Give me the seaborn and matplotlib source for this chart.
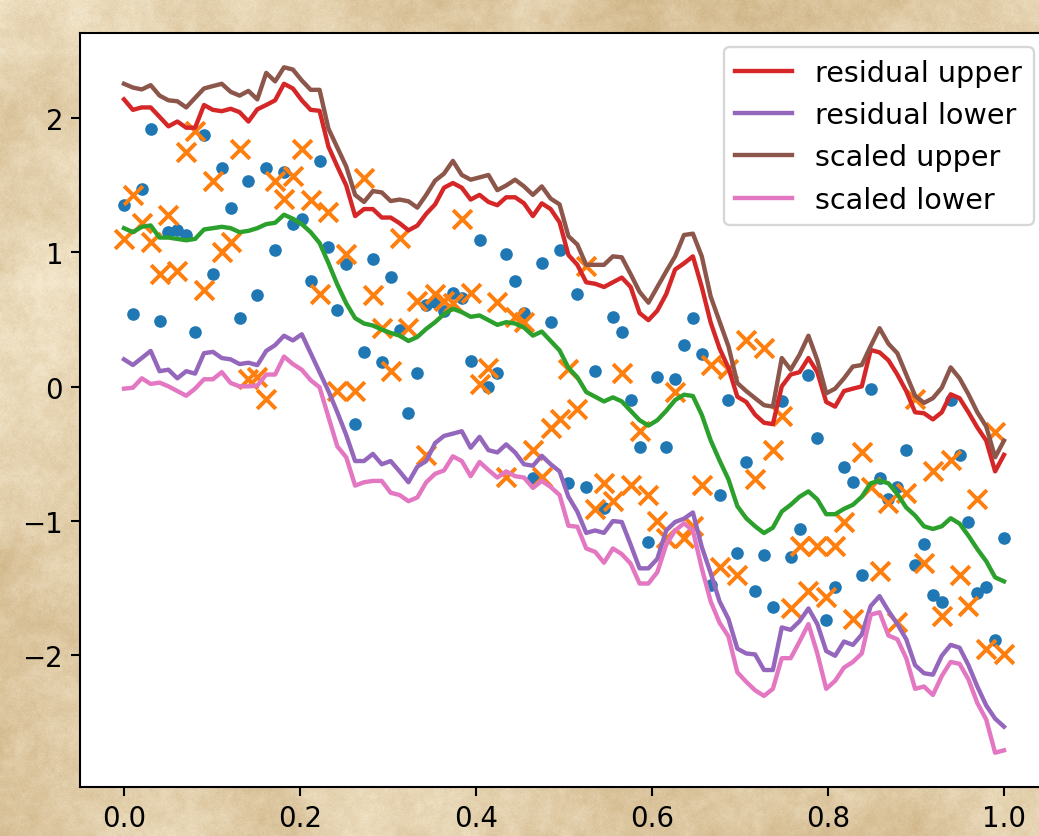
import numpy as np
import matplotlib
matplotlib.use("Agg")
import matplotlib.pyplot as plt
import seaborn as sns

# sample positions shared by every series
x = np.linspace(0.0, 1.0, 100)

# observed points, group A (dots)
obs_a = [
    1.35, 0.54, 1.47, 1.92, 0.49, 1.15, 1.17, 1.13, 0.41, 1.87,
    0.84, 1.63, 1.33, 0.51, 1.53, 0.68, 1.63, 1.02, 1.60, 1.21,
    1.25, 0.79, 1.68, 1.04, 0.57, 0.91, -0.28, 0.26, 0.95, 0.18,
    0.82, 0.42, -0.20, 0.10, 0.61, 0.63, 0.56, 0.70, 0.66, 0.19,
    1.09, 0.00, 0.10, 0.99, 0.79, 0.55, -0.68, 0.92, 0.48, 1.02,
    -0.72, 0.69, -0.75, 0.12, -0.90, 0.52, 0.41, -0.10, -0.45, -1.16,
    0.07, -0.45, 0.06, 0.31, 0.51, 0.24, -1.48, -0.81, -0.10, -1.24,
    -0.56, -1.52, -1.25, -1.64, -0.11, -1.27, -1.06, 0.09, -0.38, -1.74,
    -1.49, -0.60, -0.71, -1.40, -0.02, -0.68, -0.84, -0.75, -0.47, -1.33,
    -1.17, -1.55, -1.60, -0.10, -0.51, -1.01, -1.54, -1.49, -1.89, -1.13,
]

# observed points, group B (crosses)
obs_b = [
    1.10, 1.43, 1.22, 1.08, 0.84, 1.28, 0.86, 1.75, 1.90, 0.72,
    1.53, 1.00, 1.08, 1.77, 0.06, 0.07, -0.09, 1.53, 1.40, 1.57,
    1.77, 1.39, 0.69, 1.30, -0.03, 0.99, -0.03, 1.55, 0.68, 0.44,
    0.12, 1.11, 0.44, 0.64, -0.51, 0.69, 0.64, 0.62, 1.25, 0.70,
    0.02, 0.14, 0.63, -0.67, 0.52, 0.48, -0.47, -0.67, -0.31, -0.24,
    0.13, -0.17, 0.90, -0.91, -0.72, -0.85, 0.10, -0.73, -0.33, -0.81,
    -1.00, -1.13, -0.04, -1.13, -1.04, -0.73, 0.16, -1.34, 0.13, -1.40,
    0.35, -0.69, 0.29, -0.47, -0.22, -1.65, -1.19, -1.52, -1.19, -1.57,
    -1.19, -1.01, -1.73, -0.49, -0.75, -1.37, -0.87, -1.75, -0.79, -0.09,
    -1.31, -0.63, -1.71, -0.55, -1.40, -1.63, -0.84, -1.95, -0.34, -1.99,
]

# smoothed trend
trend = [
    1.18, 1.15, 1.19, 1.20, 1.11, 1.11, 1.10, 1.09, 1.10, 1.17,
    1.18, 1.19, 1.18, 1.15, 1.16, 1.18, 1.21, 1.22, 1.28, 1.25,
    1.21, 1.15, 1.07, 0.92, 0.76, 0.62, 0.51, 0.47, 0.455, 0.425,
    0.40, 0.38, 0.34, 0.37, 0.43, 0.48, 0.54, 0.58, 0.555, 0.52,
    0.53, 0.495, 0.46, 0.48, 0.47, 0.44, 0.38, 0.41, 0.34, 0.27,
    0.14, 0.07, -0.04, -0.075, -0.11, -0.08, -0.11, -0.18, -0.25, -0.29,
    -0.25, -0.18, -0.10, -0.06, -0.07, -0.21, -0.40, -0.55, -0.69, -0.89,
    -0.98, -1.04, -1.09, -1.05, -0.93, -0.88, -0.82, -0.78, -0.84, -0.95,
    -0.95, -0.91, -0.88, -0.82, -0.72, -0.70, -0.72, -0.80, -0.90, -0.96,
    -1.04, -1.06, -1.04, -0.98, -1.02, -1.11, -1.21, -1.30, -1.42, -1.45,
]

residual_upper = [
    2.139, 2.061, 2.079, 2.079, 2.009, 1.938, 1.974, 1.928, 1.928, 2.097,
    2.061, 2.051, 2.069, 2.044, 1.974, 2.065, 2.097, 2.132, 2.255, 2.220,
    2.132, 2.061, 2.054, 1.787, 1.639, 1.498, 1.270, 1.322, 1.322, 1.259,
    1.259, 1.217, 1.164, 1.199, 1.287, 1.357, 1.481, 1.516, 1.481, 1.393,
    1.428, 1.375, 1.351, 1.410, 1.410, 1.365, 1.270, 1.365, 1.322, 1.224,
    0.980, 0.907, 0.777, 0.766, 0.742, 0.777, 0.812, 0.742, 0.548, 0.495,
    0.566, 0.689, 0.872, 0.918, 0.970, 0.742, 0.478, 0.284, 0.140, -0.075,
    -0.114, -0.209, -0.269, -0.279, 0.002, 0.090, 0.108, 0.213, 0.108, -0.114,
    -0.149, -0.033, -0.015, 0.002, 0.273, 0.255, 0.196, 0.090, -0.033, -0.191,
    -0.198, -0.244, -0.191, -0.057, -0.086, -0.191, -0.304, -0.402, -0.631, -0.508,
]

residual_lower = [
    0.203, 0.161, 0.213, 0.266, 0.115, 0.126, 0.062, 0.115, 0.097, 0.249,
    0.259, 0.213, 0.203, 0.168, 0.178, 0.160, 0.266, 0.309, 0.379, 0.344,
    0.390, 0.249, 0.108, -0.033, -0.191, -0.360, -0.554, -0.554, -0.501, -0.578,
    -0.554, -0.631, -0.712, -0.596, -0.554, -0.420, -0.367, -0.350, -0.332, -0.455,
    -0.374, -0.473, -0.490, -0.430, -0.490, -0.578, -0.589, -0.515, -0.578, -0.631,
    -0.820, -0.931, -1.089, -1.071, -1.089, -1.001, -1.008, -1.177, -1.353, -1.353,
    -1.282, -1.071, -1.008, -0.983, -0.937, -1.194, -1.388, -1.599, -1.730, -1.951,
    -1.987, -1.994, -2.110, -2.110, -1.793, -1.811, -1.747, -1.652, -1.768, -1.969,
    -2.004, -1.898, -1.923, -1.846, -1.634, -1.560, -1.670, -1.768, -1.881, -2.074,
    -2.134, -2.145, -2.004, -1.923, -1.944, -2.074, -2.233, -2.374, -2.472, -2.532,
]

scaled_upper = [
    2.255, 2.227, 2.213, 2.245, 2.167, 2.132, 2.125, 2.079, 2.150, 2.220,
    2.238, 2.255, 2.195, 2.167, 2.202, 2.139, 2.336, 2.273, 2.378, 2.361,
    2.280, 2.210, 2.210, 1.921, 1.780, 1.639, 1.428, 1.375, 1.456, 1.446,
    1.382, 1.393, 1.380, 1.333, 1.428, 1.534, 1.586, 1.681, 1.576, 1.541,
    1.558, 1.576, 1.463, 1.498, 1.541, 1.491, 1.428, 1.491, 1.400, 1.357,
    1.120, 1.058, 0.907, 0.907, 0.907, 0.970, 0.963, 0.837, 0.706, 0.625,
    0.742, 0.858, 0.970, 1.129, 1.139, 0.970, 0.671, 0.485, 0.300, 0.027,
    -0.033, -0.086, -0.138, -0.149, 0.213, 0.126, 0.238, 0.379, 0.196, -0.050,
    -0.015, 0.062, 0.150, 0.161, 0.302, 0.435, 0.319, 0.249, 0.090, -0.068,
    -0.121, -0.086, -0.008, 0.143, 0.062, -0.057, -0.191, -0.297, -0.526, -0.402,
]

scaled_lower = [
    -0.015, -0.008, 0.062, 0.020, 0.030, 0.002, -0.033, -0.068, -0.015, 0.055,
    0.055, 0.108, 0.027, 0.002, 0.002, 0.008, 0.090, 0.090, 0.224, 0.168,
    0.126, 0.048, -0.005, -0.226, -0.445, -0.526, -0.737, -0.712, -0.702, -0.702,
    -0.790, -0.807, -0.853, -0.825, -0.712, -0.649, -0.624, -0.519, -0.554, -0.667,
    -0.561, -0.621, -0.677, -0.631, -0.667, -0.677, -0.754, -0.702, -0.747, -0.807,
    -1.036, -1.043, -1.205, -1.230, -1.311, -1.205, -1.247, -1.318, -1.466, -1.466,
    -1.381, -1.177, -1.071, -1.018, -1.071, -1.353, -1.599, -1.758, -1.860, -2.127,
    -2.198, -2.261, -2.303, -2.250, -2.022, -2.022, -1.898, -1.768, -1.987, -2.250,
    -2.191, -2.092, -2.050, -1.987, -1.698, -1.680, -1.853, -1.881, -2.022, -2.250,
    -2.233, -2.296, -2.155, -2.050, -2.064, -2.180, -2.356, -2.479, -2.726, -2.708,
]

W, H, DPI = 1039, 837, 166
LW = 1.9


def _upsample(grid, h, w):
    """Bilinear resize of a small 2-D grid to (h, w)."""
    gh, gw = grid.shape
    ys = np.linspace(0, gh - 1, h)
    xs = np.linspace(0, gw - 1, w)
    rows = np.array([np.interp(xs, np.arange(gw), r) for r in grid])
    out = np.array([np.interp(ys, np.arange(gh), c) for c in rows.T]).T
    return out


def parchment(h, w, seed=3):
    rng = np.random.default_rng(seed)
    field = np.zeros((h, w))
    for cells, amp in [(4, 1.0), (9, 0.7), (22, 0.55), (60, 0.4), (160, 0.3), (400, 0.2)]:
        g = rng.random((max(2, int(cells * h / w)), cells))
        field += amp * _upsample(g, h, w)
    field = (field - field.min()) / (field.max() - field.min())
    grain = rng.normal(0, 0.05, (h, w))
    t = np.clip(field * 1.1 - 0.1 + grain, 0, 1)
    light = np.array([243, 231, 204]) / 255.0
    dark = np.array([206, 178, 132]) / 255.0
    img = light[None, None, :] * (1 - t[..., None]) + dark[None, None, :] * t[..., None]
    return np.clip(img, 0, 1)


fig = plt.figure(figsize=(W / DPI, H / DPI), dpi=DPI)

bg = fig.add_axes([0, 0, 1, 1], zorder=-10)
bg.imshow(parchment(H, W), aspect="auto", interpolation="bilinear")
bg.set_axis_off()

left, right, top, bottom = 80, 1048, 34, 788
ax = fig.add_axes([left / W, (H - bottom) / H, (right - left) / W, (bottom - top) / H])
ax.set_facecolor("white")

sns.scatterplot(x=x, y=obs_a, ax=ax, color="C0", s=30, linewidth=0, zorder=2)
sns.scatterplot(x=x, y=obs_b, ax=ax, color="C1", marker="x", s=66, linewidth=1.7, zorder=2)

sns.lineplot(x=x, y=trend, ax=ax, color="C2", linewidth=LW, zorder=3)
sns.lineplot(x=x, y=residual_upper, ax=ax, color="C3", linewidth=LW, label="residual upper", zorder=3)
sns.lineplot(x=x, y=residual_lower, ax=ax, color="C4", linewidth=LW, label="residual lower", zorder=3)
sns.lineplot(x=x, y=scaled_upper, ax=ax, color="C5", linewidth=LW, label="scaled upper", zorder=3)
sns.lineplot(x=x, y=scaled_lower, ax=ax, color="C6", linewidth=LW, label="scaled lower", zorder=3)

ax.set_xticks([0.0, 0.2, 0.4, 0.6, 0.8, 1.0])
ax.set_yticks([-2, -1, 0, 1, 2])
ax.tick_params(labelsize=12, length=3.8, width=0.9)
for sp in ax.spines.values():
    sp.set_linewidth(0.9)
ax.legend(loc="upper right", fontsize=12.4)

fig.savefig("out.png", dpi=DPI)
